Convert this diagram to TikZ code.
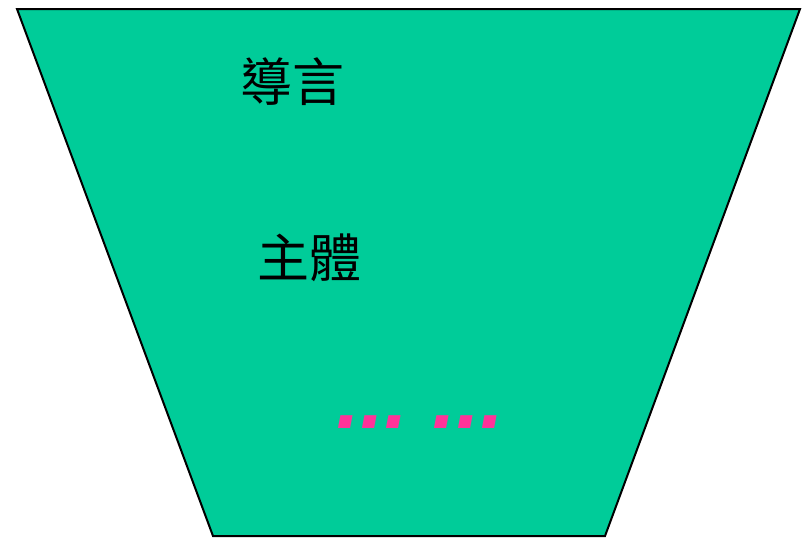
\documentclass[tikz,border=0pt]{standalone}
\usepackage{fontspec}
\setmainfont{Liberation Sans}
\newfontfamily\cjkfont{Noto Sans CJK TC}
\newfontfamily\dotfont[WordSpace=0.7]{Liberation Sans}
\definecolor{funnelgreen}{RGB}{0,204,153}
\definecolor{dotpink}{RGB}{255,51,153}
\begin{document}
\begin{tikzpicture}[x=1pt,y=-1pt,
  label/.style={font=\cjkfont\fontsize{52}{52}\selectfont, inner sep=0pt, text=black},
  dots/.style={font=\dotfont\bfseries\itshape\fontsize{86}{86}\selectfont, inner sep=0pt, text=dotpink}]
\useasboundingbox (0,0) rectangle (810,539);
\draw[fill=funnelgreen, line width=2pt, line join=miter]
  (17,9) coordinate (tl) -- (800,9) coordinate (tr) -- (605,536) coordinate (br) -- (213,536) coordinate (bl) -- cycle;
\node[label] (intro) at (292,82) {導言};
\node[label] (body) at (309,258) {主體};
\node[dots] (more) at (420.5,422) {... ...};
\end{tikzpicture}
\end{document}
